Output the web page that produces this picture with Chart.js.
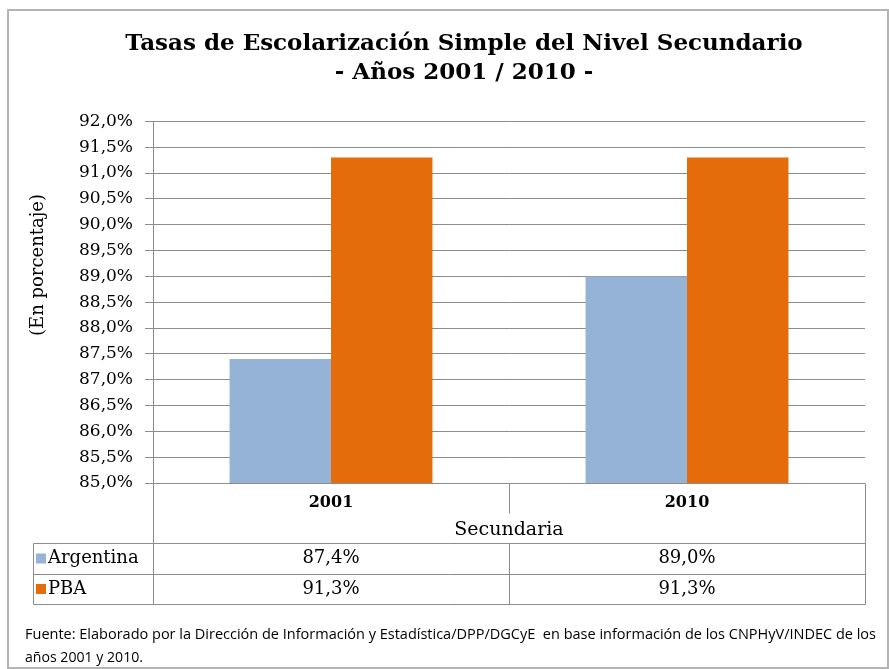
<!DOCTYPE html>
<html>
<head>
<meta charset="utf-8">
<script src="https://cdn.jsdelivr.net/npm/chart.js@4"></script>
<style>
  body { margin: 0; background: #fff; }
  canvas { display: block; }
</style>
</head>
<body>
<canvas id="myChart" width="889" height="669"></canvas>
<script>
// data
var categories = ['2001', '2010'];
var argentina = [87.4, 89.0];
var pba = [91.3, 91.3];
var seriesNames = ['Argentina', 'PBA'];
var yMin = 85, yMax = 92, yStep = 0.5;

var blue = '#95b3d7';
var orange = '#e46c0a';
var lineGray = '#8c8c8c';
var serif = '"DejaVu Serif", "Liberation Serif", serif';

function pct(v) {
    return v.toFixed(1).replace('.', ',') + '%';
}

// frame, y title, data table under the x axis and the source note
var tablePlugin = {
    id: 'dataTable',
    afterDraw: function (chart) {
        var ctx = chart.ctx;
        var x = chart.scales.x;
        var area = chart.chartArea;
        var top = area.bottom;
        var rowA = top + 60, rowB = rowA + 31, rowEnd = rowB + 30;
        var legLeft = 33;
        var mid = (x.getPixelForValue(0) + x.getPixelForValue(1)) / 2;

        ctx.save();
        // outer frame
        ctx.strokeStyle = '#b4b4b4';
        ctx.lineWidth = 2;
        ctx.strokeRect(8, 10, 880, 658);

        // y axis title
        ctx.save();
        ctx.translate(38, 265);
        ctx.rotate(-Math.PI / 2);
        ctx.font = '18px ' + serif;
        ctx.fillStyle = '#000';
        ctx.textAlign = 'center';
        ctx.textBaseline = 'middle';
        ctx.fillText('(En porcentaje)', 0, 0);
        ctx.restore();

        ctx.strokeStyle = lineGray;
        ctx.lineWidth = 1;
        ctx.beginPath();
        function line(x1, y1, x2, y2) {
            ctx.moveTo(Math.round(x1) + 0.5, Math.round(y1) + 0.5);
            ctx.lineTo(Math.round(x2) + 0.5, Math.round(y2) + 0.5);
        }
        line(area.left, top, area.left, rowEnd);
        line(area.right, top, area.right, rowEnd);
        line(mid, top, mid, top + 30);
        line(mid, rowA, mid, rowEnd);
        line(legLeft, rowA, legLeft, rowEnd);
        line(legLeft, rowA, area.right, rowA);
        line(legLeft, rowB, area.right, rowB);
        line(legLeft, rowEnd, area.right, rowEnd);
        ctx.stroke();

        var rows = [argentina, pba];
        var colors = [blue, orange];
        var ys = [(rowA + rowB) / 2, (rowB + rowEnd) / 2];
        ctx.textBaseline = 'middle';
        for (var r = 0; r < rows.length; r++) {
            ctx.fillStyle = colors[r];
            ctx.fillRect(36, ys[r] - 5, 10, 10);
            ctx.fillStyle = '#000';
            ctx.font = '18px ' + serif;
            ctx.textAlign = 'left';
            ctx.fillText(seriesNames[r], 48, ys[r]);
            ctx.textAlign = 'center';
            for (var i = 0; i < rows[r].length; i++) {
                ctx.fillText(pct(rows[r][i]), x.getPixelForValue(i), ys[r]);
            }
        }

        // source note
        ctx.font = '14.5px "Open Sans", sans-serif';
        ctx.textAlign = 'left';
        ctx.fillStyle = '#000';
        ctx.fillText('Fuente: Elaborado por la Dirección de Información y Estadística/DPP/DGCyE  en base información de los CNPHyV/INDEC de los', 25, 635, 851);
        ctx.fillText('años 2001 y 2010.', 25, 658, 118);
        ctx.restore();
    }
};

var ctx = document.getElementById('myChart').getContext('2d');
var myChart = new Chart(ctx, {
    type: 'bar',
    data: {
        labels: categories,
        datasets: [{
            label: seriesNames[0],
            data: argentina,
            backgroundColor: blue,
            borderWidth: 0
        }, {
            label: seriesNames[1],
            data: pba,
            backgroundColor: orange,
            borderWidth: 0
        }]
    },
    options: {
        responsive: false,
        animation: false,
        devicePixelRatio: 1,
        datasets: {
            bar: { categoryPercentage: 0.57, barPercentage: 1 }
        },
        layout: {
            padding: { left: 63, right: 24, top: 0, bottom: 126 }
        },
        plugins: {
            legend: { display: false },
            tooltip: { enabled: false },
            title: {
                display: true,
                text: ['Tasas de Escolarización Simple del Nivel Secundario', '- Años 2001 / 2010 -'],
                color: '#000',
                font: { family: serif, size: 23, weight: 'bold', lineHeight: 1.27 },
                padding: { top: 29, bottom: 34 }
            }
        },
        scales: {
            x: {
                grid: { display: false, drawTicks: false },
                border: { display: false },
                ticks: {
                    color: '#000',
                    padding: 10,
                    font: { family: serif, size: 16, weight: 'bold' }
                },
                title: {
                    display: true,
                    text: 'Secundaria',
                    color: '#000',
                    font: { family: serif, size: 19 },
                    padding: { top: 0, bottom: 2 }
                },
                afterFit: function (scale) { scale.height = 60; }
            },
            y: {
                min: yMin,
                max: yMax,
                grid: { color: lineGray, tickLength: 8 },
                border: { color: lineGray },
                ticks: {
                    stepSize: yStep,
                    color: '#000',
                    padding: 12,
                    font: { family: serif, size: 17 },
                    callback: function (v) { return pct(v); }
                },
                afterFit: function (scale) { scale.width = 90; }
            }
        }
    },
    plugins: [tablePlugin]
});
</script>
</body>
</html>
